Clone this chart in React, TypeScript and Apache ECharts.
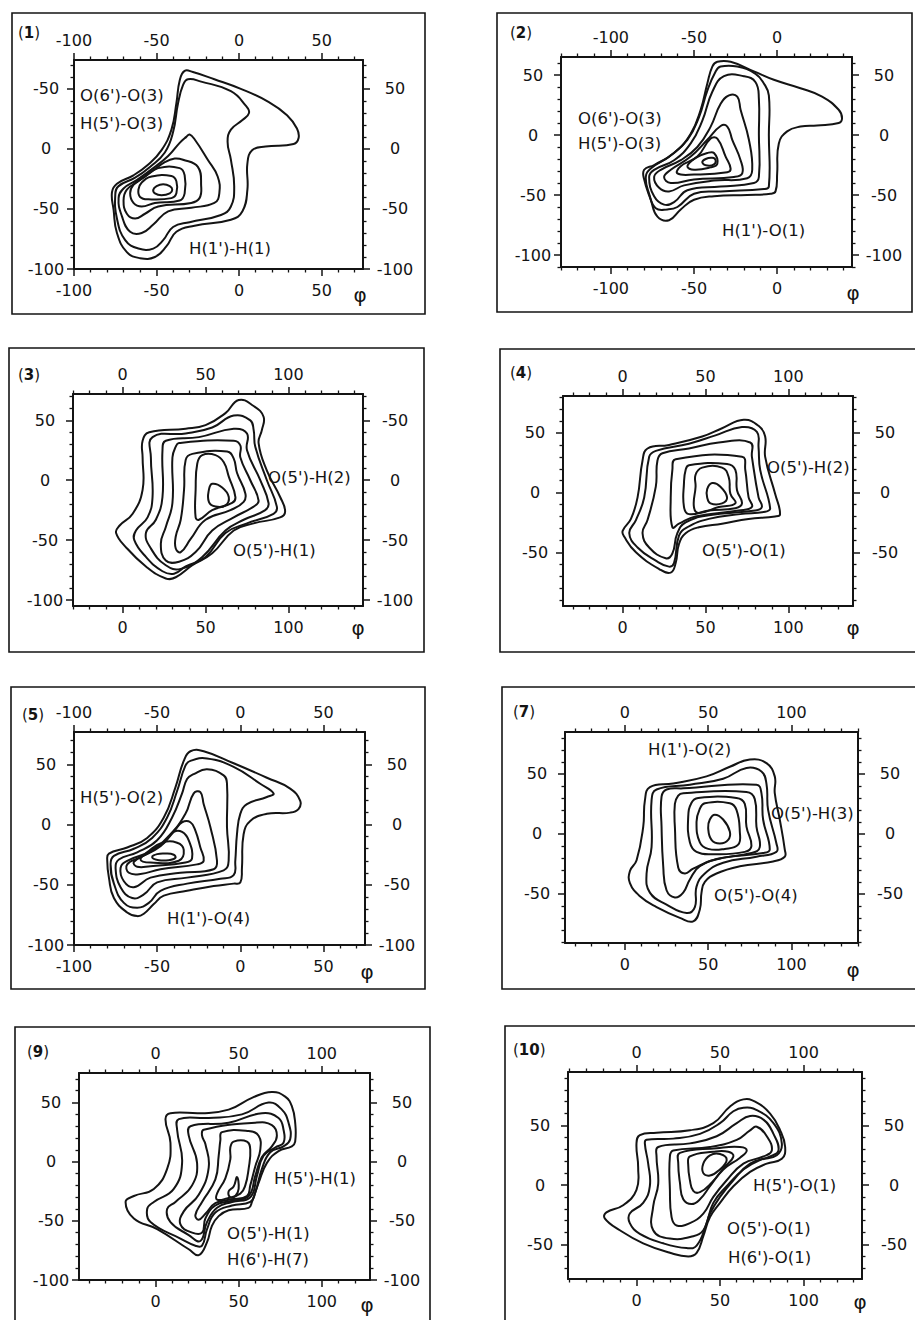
import React, { useEffect, useRef } from "react";
import * as echarts from "echarts";

type Pt = [number, number];

// ---------------- Panel (1) ----------------
const p1XRange = [-100, 75];
const p1YRange = [-100, 74];
const p1XTicks = [-100, -50, 0, 50];
const p1XLabels = ["-100", "-50", "0", "50"];
const p1YTicks = [-100, -50, 0, 50];
const p1YLeftLabels = ["-100", "-50", "0", "-50"];
const p1YRightLabels = ["-100", "-50", "0", "50"];
const p1Notes = ["O(6')-O(3)", "H(5')-O(3)", "H(1')-H(1)"];
const p1Contours: Pt[][] = [
  [[-33,65],[-28,64],[-15,58],[1,50],[18,39],[29,28],[35,17],[36,9],[33,4],[16,2],[8,-1],[5,-12],[5,-34],[2,-52],[-5,-59],[-27,-64],[-38,-69],[-44,-81],[-51,-90],[-60,-91],[-68,-86],[-74,-70],[-76,-51],[-77,-36],[-74,-29],[-64,-22],[-55,-13],[-47,-1],[-41,16],[-38,38],[-36,57]],
  [[-31,58],[-23,56],[-5,48],[4,36],[6,30],[2,24],[-5,16],[-7,6],[-5,-9],[-3,-31],[-5,-48],[-11,-55],[-30,-61],[-40,-65],[-46,-76],[-52,-83],[-61,-83],[-69,-76],[-74,-58],[-75,-38],[-73,-31],[-63,-24],[-54,-15],[-45,-3],[-40,14],[-37,38],[-34,53]],
  [[-30,12],[-27,8],[-19,-9],[-13,-23],[-12,-37],[-15,-45],[-29,-49],[-43,-52],[-52,-63],[-59,-70],[-66,-69],[-71,-56],[-73,-41],[-70,-33],[-62,-26],[-52,-16],[-43,-6],[-36,5],[-32,10]],
  [[-39,-8],[-34,-9],[-25,-15],[-23,-31],[-24,-41],[-29,-45],[-49,-48],[-57,-54],[-63,-58],[-68,-54],[-70,-43],[-68,-34],[-61,-27],[-52,-18],[-45,-11]],
  [[-49,-16],[-36,-16],[-33,-22],[-33,-37],[-36,-43],[-51,-45],[-59,-48],[-64,-45],[-66,-37],[-64,-30],[-57,-23]],
  [[-53,-23],[-41,-22.5],[-38,-27],[-38,-37],[-41,-41],[-55,-42],[-60,-40],[-61,-34],[-59,-28]],
  [[-52,-34],[-50,-31],[-46,-29.5],[-42,-31],[-40.5,-34],[-42,-37],[-47,-38.5],[-51,-37]],
];

// ---------------- Panel (2) ----------------
const p2XRange = [-130, 45];
const p2YRange = [-110, 65];
const p2XTicks = [-100, -50, 0];
const p2XLabels = ["-100", "-50", "0"];
const p2YTicks = [-100, -50, 0, 50];
const p2YLeftLabels = ["-100", "-50", "0", "50"];
const p2YRightLabels = ["-100", "-50", "0", "50"];
const p2Notes = ["O(6')-O(3)", "H(5')-O(3)", "H(1')-O(1)"];
const p2Contours: Pt[][] = [
  [[-36,61],[-28,61],[-14,53],[-2,46],[14,39],[27,32],[37,21],[39,14],[37,10],[24,8],[14,7],[6,3],[1,-7],[0,-32],[-1,-47],[-4,-49],[-18,-50],[-38,-51],[-50,-54],[-58,-62],[-65,-71],[-72,-68],[-76,-54],[-80,-37],[-80,-29],[-74,-25],[-62,-15],[-52,1],[-46,21],[-42,43],[-39,57]],
  [[-34,57],[-24,57],[-13,51],[-8,43],[-5,33],[-5,0],[-5,-43],[-8,-45],[-34,-47],[-50,-49],[-60,-60],[-66,-62],[-73,-61],[-77,-49],[-79,-35],[-76,-28],[-65,-18],[-54,-4],[-47,15],[-42,37],[-37,53]],
  [[-32,49],[-20,49],[-13,44],[-11,30],[-11,1],[-11,-35],[-14,-40],[-34,-43],[-54,-46],[-62,-56],[-68,-58],[-74,-51],[-77,-35],[-74,-29],[-62,-21],[-52,-7],[-45,12],[-39,36]],
  [[-29,33],[-24,32],[-22,21],[-17,-4],[-15,-29],[-18,-36],[-38,-38],[-56,-42],[-65,-47],[-71,-44],[-74,-35],[-70,-29],[-58,-21],[-48,-10],[-40,7],[-34,26]],
  [[-34,7.5],[-30,7],[-27,-4],[-22,-21],[-21,-32],[-26,-35],[-50,-37],[-64,-40],[-68,-35],[-64,-29],[-52,-18],[-42,-4]],
  [[-40,-3],[-36,-3],[-31,-18],[-28,-28],[-30,-31],[-50,-33],[-60,-32],[-58,-26],[-48,-18]],
  [[-42,-15],[-38,-15],[-36,-24],[-40,-27],[-50,-29],[-54,-26],[-49,-19]],
  [[-45,-23],[-43,-20],[-39,-19],[-37,-21],[-38,-24.5],[-42,-25.5]],
];

// ---------------- Panel (3) ----------------
const p3XRange = [-30, 145];
const p3YRange = [-105, 72];
const p3XTicks = [0, 50, 100];
const p3XLabels = ["0", "50", "100"];
const p3YTicks = [-100, -50, 0, 50];
const p3YLeftLabels = ["-100", "-50", "0", "50"];
const p3YRightLabels = ["-100", "-50", "0", "-50"];
const p3Notes = ["O(5')-H(2)", "O(5')-H(1)"];
const p3Contours: Pt[][] = [
  [[70,67],[79,62],[85,53],[84,42],[82,31],[87,8],[95,-14],[98,-26],[95,-31],[79,-36],[67,-42],[54,-61],[42,-71],[32,-81],[26,-82],[14,-72],[2,-56],[-4,-44],[-2,-38],[6,-28],[12,-8],[12,19],[12,33],[16,40],[38,43],[50,46],[62,56]],
  [[67,54],[77,50],[79,42],[80,28],[87,0],[93,-22],[91,-28],[75,-36],[62,-44],[50,-64],[38,-72],[31,-78],[24,-76],[14,-64],[7,-50],[8,-42],[15,-31],[18,-14],[17,19],[18,36],[38,39],[54,44]],
  [[67,43],[75,39],[75,25],[83,0],[88,-19],[86,-25],[73,-33],[62,-42],[48,-64],[35,-74],[26,-71],[17,-57],[14,-44],[20,-33],[24,-14],[24,25],[26,33],[46,36]],
  [[34,31],[67,33],[71,29],[71,19],[77,0],[82,-17],[79,-22],[67,-31],[54,-42],[44,-60],[34,-68],[26,-67],[23,-53],[26,-39],[30,-19],[30,19],[32,28]],
  [[42,22],[63,24],[67,18],[69,6],[74,-11],[73,-18],[65,-25],[50,-33],[41,-49],[35,-60],[32,-57],[32,-47],[35,-33],[37,-8],[38,17]],
  [[48,21],[56,21],[61,15],[64,3],[68,-14],[66,-19],[54,-25],[46,-33],[44,-31],[44,-8],[45,14]],
  [[54,-3],[60,-6],[64,-14],[62,-21],[56,-22],[52,-18],[52,-8]],
];

// ---------------- Panel (4) ----------------
const p4XRange = [-36, 139];
const p4YRange = [-95, 81];
const p4XTicks = [0, 50, 100];
const p4XLabels = ["0", "50", "100"];
const p4YTicks = [-50, 0, 50];
const p4YLeftLabels = ["-50", "0", "50"];
const p4YRightLabels = ["-50", "0", "50"];
const p4Notes = ["O(5')-H(2)", "O(5')-O(1)"];
const p4Contours: Pt[][] = [
  [[73,61],[82,56],[86,47],[86,30],[92,-1],[95,-18],[92,-20],[76,-22],[60,-26],[46,-29],[38,-34],[34,-43],[32,-59],[29,-67],[22,-64],[8,-50],[1,-37],[0,-32],[5,-22],[9,-4],[12,27],[15,37],[28,40],[48,47],[60,54]],
  [[72,55],[81,51],[82,38],[83,19],[89,-13],[86,-16],[71,-18],[52,-22],[39,-29],[34,-36],[31,-59],[28,-62],[20,-57],[9,-46],[4,-34],[8,-23],[13,-4],[16,30],[20,35],[40,41],[56,48]],
  [[58,42],[77,42],[78,30],[82,-4],[84,-12],[80,-15],[52,-19],[38,-25],[33,-34],[30,-51],[26,-55],[16,-46],[12,-34],[15,-23],[20,5],[21,27],[24,33],[40,37]],
  [[32,28],[72,30],[74,19],[76,-4],[78,-12],[70,-15],[44,-20],[34,-26],[30,-29],[29,-4],[30,19]],
  [[40,23],[63,24],[68,19],[69,2],[72,-9],[68,-13],[52,-15],[40,-18],[37,-12],[37,8],[38,19]],
  [[48,21],[60,21],[64,13],[65,-1],[68,-9],[58,-12],[46,-17],[43,-12],[44,5],[44,15]],
  [[54,8],[59,5],[63,-4],[60,-9],[53,-9],[51,-4],[51,3]],
];

// ---------------- Panel (5) ----------------
const p5XRange = [-100, 75];
const p5YRange = [-100, 77];
const p5XTicks = [-100, -50, 0, 50];
const p5XLabels = ["-100", "-50", "0", "50"];
const p5YTicks = [-100, -50, 0, 50];
const p5YLeftLabels = ["-100", "-50", "0", "50"];
const p5YRightLabels = ["-100", "-50", "0", "50"];
const p5Notes = ["H(5')-O(2)", "H(1')-O(4)"];
const p5Contours: Pt[][] = [
  [[-30,61],[-22,61],[-4,51],[16,39],[30,30],[36,20],[35,13],[30,10],[16,9],[6,3],[2,-8],[1,-36],[0,-48],[-4,-49],[-16,-51],[-32,-55],[-46,-59],[-52,-66],[-58,-74],[-62,-76],[-68,-73],[-76,-61],[-79,-44],[-80,-30],[-79,-24],[-68,-19],[-56,-11],[-46,6],[-39,31],[-34,53]],
  [[-30,53],[-20,55],[-4,48],[12,34],[20,26],[16,23],[4,17],[0,9],[-2,-8],[-3,-30],[-4,-42],[-12,-45],[-32,-49],[-48,-55],[-55,-65],[-62,-69],[-70,-65],[-76,-49],[-78,-33],[-76,-26],[-64,-20],[-53,-11],[-44,6],[-38,28],[-33,49]],
  [[-28,42],[-20,46],[-10,41],[-8,34],[-8,-2],[-7,-30],[-10,-38],[-32,-44],[-50,-48],[-58,-58],[-65,-61],[-72,-52],[-75,-36],[-73,-29],[-62,-23],[-50,-13],[-41,6],[-35,26],[-32,38]],
  [[-28,26],[-24,27],[-22,17],[-18,-2],[-14,-30],[-16,-37],[-36,-40],[-54,-44],[-64,-52],[-70,-47],[-72,-36],[-68,-30],[-54,-22],[-42,-8],[-33,9]],
  [[-35,2],[-30,2],[-27,-5],[-24,-19],[-22,-30],[-26,-33],[-48,-37],[-60,-41],[-67,-40],[-68,-33],[-60,-27],[-48,-18],[-39,-4]],
  [[-40,-6],[-35,-6],[-31,-13],[-29,-28],[-33,-31.5],[-54,-34.5],[-62,-35],[-64,-31],[-56,-24],[-46,-15]],
  [[-47,-15],[-38,-15],[-34,-21],[-37,-30],[-54,-31.5],[-60,-29],[-55,-22]],
  [[-53,-27],[-50,-24.5],[-45,-24],[-40,-25],[-39,-27.5],[-43,-29.5],[-49,-29.5]],
];

// ---------------- Panel (7) ----------------
const p7XRange = [-36, 140];
const p7YRange = [-91, 85];
const p7XTicks = [0, 50, 100];
const p7XLabels = ["0", "50", "100"];
const p7YTicks = [-50, 0, 50];
const p7YLeftLabels = ["-50", "0", "50"];
const p7YRightLabels = ["-50", "0", "50"];
const p7Notes = ["H(1')-O(2)", "O(5')-H(3)", "O(5')-O(4)"];
const p7Contours: Pt[][] = [
  [[75,62],[85,59],[90,48],[90,34],[93,12],[96,-13],[96,-19],[89,-23],[69,-27],[55,-33],[48,-40],[46,-49],[45,-63],[41,-73],[33,-70],[19,-61],[9,-52],[3,-41],[3,-31],[7,-22],[11,6],[12,28],[15,39],[29,42],[49,48],[63,56]],
  [[73,55],[82,52],[85,42],[86,20],[91,-8],[91,-15],[79,-19],[59,-24],[48,-33],[43,-44],[42,-61],[37,-66],[25,-59],[15,-49],[13,-33],[16,-11],[16,28],[19,37],[39,41],[59,46]],
  [[35,38],[79,41],[82,34],[83,12],[87,-13],[83,-16],[59,-20],[45,-27],[39,-38],[35,-49],[30,-53],[25,-47],[23,-27],[22,6],[22,31],[25,37]],
  [[35,34],[73,35],[78,29],[79,6],[81,-11],[76,-16],[55,-21],[41,-29],[36,-33],[32,-28],[30,6],[30,25],[32,32]],
  [[44,30],[67,30],[72,25],[73,6],[76,-10],[72,-15],[53,-17],[43,-15],[39,-7],[38,14],[40,26]],
  [[48,25.5],[63,25.5],[67,20],[69,2],[68,-9],[60,-12.5],[50,-12.5],[45,-7],[43,10],[45,21]],
  [[54,16],[59,12],[63,2],[62,-5],[57,-8],[52,-5],[50,5],[51,12]],
];

// ---------------- Panel (9) ----------------
const p9XRange = [-46, 129];
const p9YRange = [-100, 75];
const p9XTicks = [0, 50, 100];
const p9XLabels = ["0", "50", "100"];
const p9YTicks = [-100, -50, 0, 50];
const p9YLeftLabels = ["-100", "-50", "0", "50"];
const p9YRightLabels = ["-100", "-50", "0", "50"];
const p9Notes = ["H(5')-H(1)", "O(5')-H(1)", "H(6')-H(7)"];
const p9Contours: Pt[][] = [
  [[70,59],[78,55],[82,47],[84,33],[84,17],[82,13],[74,9],[67,-1],[62,-18],[58,-34],[56,-39],[44,-41],[38,-46],[34,-54],[31,-68],[26,-79],[20,-74],[1,-57],[-13,-48],[-18,-34],[-13,-29],[-1,-23],[7,-6],[9,16],[6,36],[9,41],[28,41],[44,44],[58,54]],
  [[68,50],[76,44],[80,33],[81,19],[77,13],[69,8],[64,-6],[60,-26],[57,-34],[46,-37],[36,-43],[31,-57],[28,-71],[24,-71],[15,-65],[-3,-51],[-5,-40],[-1,-34],[11,-23],[16,-1],[13,27],[14,36],[32,37],[52,40]],
  [[64,41],[74,37],[77,27],[77,16],[72,12],[65,5],[61,-12],[57,-30],[46,-34],[37,-39],[31,-51],[27,-67],[20,-62],[9,-51],[7,-40],[12,-34],[22,-20],[25,-1],[20,22],[21,30],[44,33]],
  [[29,27],[60,33],[70,31],[73,22],[70,13],[64,4],[60,-12],[56,-29],[46,-33],[36,-37],[30,-48],[28,-60],[22,-60],[15,-53],[17,-42],[26,-28],[32,-5],[30,15],[28,22]],
  [[40,25],[56,26],[62,22],[63,10],[60,-4],[57,-20],[55,-29],[45,-32],[36,-35],[30,-44],[26,-49],[24,-45],[28,-34],[36,-15],[38,5],[39,18]],
  [[47,17],[55,17],[57,10],[56,-6],[54,-20],[51,-27],[43,-31],[37,-32],[37,-27],[42,-14],[45,2],[45,12]],
  [[49,-13],[50,-23],[48,-29],[45,-30],[44,-25],[47,-21]],
];

// ---------------- Panel (10) ----------------
const p10XRange = [-41, 135];
const p10YRange = [-79, 95];
const p10XTicks = [0, 50, 100];
const p10XLabels = ["0", "50", "100"];
const p10YTicks = [-50, 0, 50];
const p10YLeftLabels = ["-50", "0", "50"];
const p10YRightLabels = ["-50", "0", "50"];
const p10Notes = ["H(5')-O(1)", "O(5')-O(1)", "H(6')-O(1)"];
const p10Contours: Pt[][] = [
  [[64,72],[71,70],[80,60],[86,46],[89,32],[87,22],[78,18],[68,11],[58,-1],[50,-15],[44,-27],[40,-43],[36,-57],[31,-60],[20,-57],[4,-49],[-10,-38],[-19,-28],[-18,-23],[-8,-17],[0,-4],[1,15],[0,35],[2,42],[12,44],[32,46],[46,52],[56,66]],
  [[64,65],[72,63],[82,52],[87,35],[84,25],[74,21],[64,13],[54,-1],[46,-15],[42,-32],[36,-51],[30,-53],[16,-49],[2,-41],[-4,-32],[-4,-24],[4,-15],[8,-1],[7,18],[5,35],[6,38],[22,39],[38,43],[50,52],[58,62]],
  [[68,58],[76,55],[82,43],[85,29],[80,24],[68,18],[58,4],[50,-10],[44,-24],[40,-38],[34,-43],[20,-45],[10,-38],[10,-18],[13,1],[12,24],[13,32],[32,35],[48,41],[60,52]],
  [[72,49],[78,41],[81,29],[76,24],[64,18],[54,4],[46,-10],[40,-24],[32,-32],[24,-34],[21,-27],[20,-4],[20,24],[22,29],[44,32],[60,38],[68,46]],
  [[26,27],[48,31],[62,32],[66,29],[62,23],[52,13],[44,-1],[38,-12],[33,-16],[28,-12],[26,2],[25,18]],
  [[32,24],[46,28],[55,28],[58,24],[52,14],[45,2],[38,-6],[34,-5],[32,4],[31,16]],
  [[44,25],[50,26],[54,21],[49,12],[44,8],[40,10],[40,18]],
];

// ---------------- layout (pixels, not data) ----------------
type Layout = {
  box: number[];
  grid: number[];
  tag: number[];
  phi: number[];
  notes: number[][];
};
const layouts: Layout[] = [
  { box: [12, 13, 425, 314], grid: [74, 60, 363, 269], tag: [18, 33], phi: [360, 295], notes: [[80, 95], [80, 123], [189, 248]] },
  { box: [497, 13, 912, 312], grid: [561, 57, 852, 267], tag: [510, 33], phi: [853, 293], notes: [[578, 118], [578, 143], [722, 230]] },
  { box: [9, 348, 424, 652], grid: [73, 394, 363, 606], tag: [18, 375], phi: [358, 628], notes: [[268, 477], [233, 550]] },
  { box: [500, 349, 925, 652], grid: [563, 396, 853, 606], tag: [510, 373], phi: [853, 628], notes: [[767, 467], [702, 550]] },
  { box: [11, 687, 425, 989], grid: [74, 732, 365, 945], tag: [22, 715], phi: [367, 972], notes: [[80, 797], [167, 918]] },
  { box: [502, 687, 925, 989], grid: [565, 732, 858, 943], tag: [513, 712], phi: [853, 970], notes: [[648, 749], [771, 813], [714, 895]] },
  { box: [15, 1027, 430, 1330], grid: [79, 1073, 370, 1280], tag: [27, 1052], phi: [367, 1305], notes: [[274, 1178], [227, 1233], [227, 1259]] },
  { box: [505, 1026, 925, 1330], grid: [568, 1072, 862, 1279], tag: [513, 1050], phi: [860, 1302], notes: [[753, 1185], [727, 1228], [728, 1257]] },
];

const panels = [
  { tag: "1", xr: p1XRange, yr: p1YRange, xt: p1XTicks, xl: p1XLabels, yt: p1YTicks, yl: p1YLeftLabels, yrl: p1YRightLabels, notes: p1Notes, rings: p1Contours },
  { tag: "2", xr: p2XRange, yr: p2YRange, xt: p2XTicks, xl: p2XLabels, yt: p2YTicks, yl: p2YLeftLabels, yrl: p2YRightLabels, notes: p2Notes, rings: p2Contours },
  { tag: "3", xr: p3XRange, yr: p3YRange, xt: p3XTicks, xl: p3XLabels, yt: p3YTicks, yl: p3YLeftLabels, yrl: p3YRightLabels, notes: p3Notes, rings: p3Contours },
  { tag: "4", xr: p4XRange, yr: p4YRange, xt: p4XTicks, xl: p4XLabels, yt: p4YTicks, yl: p4YLeftLabels, yrl: p4YRightLabels, notes: p4Notes, rings: p4Contours },
  { tag: "5", xr: p5XRange, yr: p5YRange, xt: p5XTicks, xl: p5XLabels, yt: p5YTicks, yl: p5YLeftLabels, yrl: p5YRightLabels, notes: p5Notes, rings: p5Contours },
  { tag: "7", xr: p7XRange, yr: p7YRange, xt: p7XTicks, xl: p7XLabels, yt: p7YTicks, yl: p7YLeftLabels, yrl: p7YRightLabels, notes: p7Notes, rings: p7Contours },
  { tag: "9", xr: p9XRange, yr: p9YRange, xt: p9XTicks, xl: p9XLabels, yt: p9YTicks, yl: p9YLeftLabels, yrl: p9YRightLabels, notes: p9Notes, rings: p9Contours },
  { tag: "10", xr: p10XRange, yr: p10YRange, xt: p10XTicks, xl: p10XLabels, yt: p10YTicks, yl: p10YLeftLabels, yrl: p10YRightLabels, notes: p10Notes, rings: p10Contours },
];

const INK = "#141414";
const FONT = "'DejaVu Sans', 'Liberation Sans', sans-serif";

function minorValues(range: number[], majors: number[]) {
  const out: number[] = [];
  for (let v = Math.ceil(range[0] / 10) * 10; v <= range[1]; v += 10) {
    if (majors.indexOf(v) < 0) out.push(v);
  }
  return out;
}

function labeler(ticks: number[], labels: string[]) {
  return (v: number) => {
    for (let i = 0; i < ticks.length; i++) if (Math.abs(ticks[i] - v) < 1e-6) return labels[i];
    return "";
  };
}

function buildOption() {
  const grid: any[] = [];
  const xAxis: any[] = [];
  const yAxis: any[] = [];
  const series: any[] = [];
  const graphic: any[] = [];

  panels.forEach((p, i) => {
    const L = layouts[i];
    const [gl, gt, gr, gb] = L.grid;
    grid.push({ left: gl, top: gt, width: gr - gl, height: gb - gt, containLabel: false, outerBoundsMode: "none" });

    const xMinor = minorValues(p.xr, p.xt);
    const yMinor = minorValues(p.yr, p.yt);

    const major = (ticks: number[], labels: string[], margin: number, align?: string) => ({
      axisLine: { show: true, onZero: false, lineStyle: { color: INK, width: 2 } },
      axisTick: { show: true, inside: false, length: 7, customValues: ticks, lineStyle: { color: INK, width: 1.5 } },
      axisLabel: {
        show: true, customValues: ticks, formatter: labeler(ticks, labels), margin,
        fontSize: 16, color: INK, fontFamily: FONT, ...(align ? { align } : {}),
      },
      splitLine: { show: false },
      minorTick: { show: false },
    });
    const minor = (ticks: number[]) => ({
      axisLine: { show: false, onZero: false },
      axisTick: { show: true, inside: false, length: 3.5, customValues: ticks, lineStyle: { color: INK, width: 1.3 } },
      axisLabel: { show: false },
      splitLine: { show: false },
      minorTick: { show: false },
    });

    const xBase = { type: "value", gridIndex: i, min: p.xr[0], max: p.xr[1] };
    const yBase = { type: "value", gridIndex: i, min: p.yr[0], max: p.yr[1] };

    xAxis.push({ ...xBase, position: "bottom", ...major(p.xt, p.xl, 13) });
    xAxis.push({ ...xBase, position: "bottom", ...minor(xMinor) });
    xAxis.push({ ...xBase, position: "top", ...major(p.xt, p.xl, 12) });
    xAxis.push({ ...xBase, position: "top", ...minor(xMinor) });

    yAxis.push({ ...yBase, position: "left", ...major(p.yt, p.yl, 28, "center") });
    yAxis.push({ ...yBase, position: "left", ...minor(yMinor) });
    yAxis.push({ ...yBase, position: "right", ...major(p.yt, p.yrl, 32, "center") });
    yAxis.push({ ...yBase, position: "right", ...minor(yMinor) });

    const rings = p.rings;
    series.push({
      type: "custom",
      coordinateSystem: "cartesian2d",
      xAxisIndex: 4 * i,
      yAxisIndex: 4 * i,
      silent: true,
      clip: false,
      data: rings.map((r) => r[0]),
      renderItem: (params: any, api: any) => {
        const ring = rings[params.dataIndex];
        return {
          type: "polygon",
          shape: { points: ring.map((pt) => api.coord(pt)), smooth: 0.45 },
          style: { fill: "none", stroke: INK, lineWidth: 2 },
        };
      },
    });

    // outer frame
    const [bl, bt, br, bb] = L.box;
    graphic.push({
      type: "rect", silent: true,
      shape: { x: bl, y: bt, width: br - bl, height: bb - bt },
      style: { fill: "none", stroke: INK, lineWidth: 1.6 },
    });
    // panel tag
    graphic.push({
      type: "text", silent: true, x: L.tag[0], y: L.tag[1],
      style: {
        text: "({b|" + p.tag + "})", fill: INK, fontSize: 15, fontFamily: FONT, verticalAlign: "middle",
        rich: { b: { fontWeight: "bold", fontSize: 15, fontFamily: FONT, fill: INK } },
      },
    });
    // phi
    graphic.push({
      type: "text", silent: true, x: L.phi[0], y: L.phi[1],
      style: { text: "φ", fill: INK, fontSize: 20, fontFamily: FONT, align: "center", verticalAlign: "middle" },
    });
    // contour annotations
    p.notes.forEach((t, k) => {
      graphic.push({
        type: "text", silent: true, x: L.notes[k][0], y: L.notes[k][1],
        style: { text: t, fill: INK, fontSize: 16.5, fontFamily: FONT, verticalAlign: "middle" },
      });
    });
  });

  return {
    animation: false,
    backgroundColor: "#ffffff",
    grid,
    xAxis,
    yAxis,
    series,
    graphic,
  };
}

export default function App() {
  const ref = useRef<HTMLDivElement>(null);
  useEffect(() => {
    if (!ref.current) return;
    const chart = echarts.init(ref.current, null, { renderer: "svg" });
    chart.setOption(buildOption() as any);
    return () => chart.dispose();
  }, []);
  return (
    <div
      ref={ref}
      style={{ position: "absolute", left: 0, top: 0, width: 915, height: 1320, background: "#fff" }}
    />
  );
}
